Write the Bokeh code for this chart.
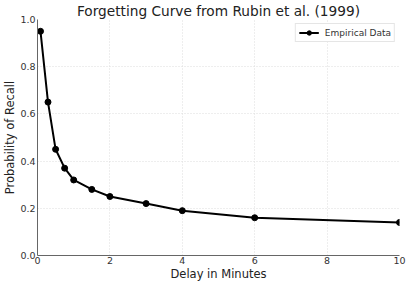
from bokeh.plotting import figure
from bokeh.models import ColumnDataSource, Range1d, FixedTicker, PrintfTickFormatter
from bokeh.embed import file_html
from bokeh.resources import INLINE

delay_minutes = [0.083, 0.29, 0.5, 0.75, 1.0, 1.5, 2.0, 3.0, 4.0, 6.0, 10.0]
recall_prob = [0.95, 0.65, 0.45, 0.37, 0.32, 0.28, 0.25, 0.22, 0.19, 0.16, 0.14]
x_ticks = [0, 2, 4, 6, 8, 10]
y_ticks = [0.0, 0.2, 0.4, 0.6, 0.8, 1.0]
title_text = "Forgetting Curve from Rubin et al. (1999)"
x_label = "Delay in Minutes"
y_label = "Probability of Recall"
series_label = "Empirical Data"

FONT = "DejaVu Sans"

src = ColumnDataSource(dict(x=delay_minutes, y=recall_prob))

p = figure(width=410, height=284, output_backend="svg", toolbar_location=None,
           x_range=Range1d(0, 10), y_range=Range1d(0, 1.0),
           min_border_left=35, min_border_right=11, min_border_top=0, min_border_bottom=29)

p.title.text = title_text
p.title.align = "center"
p.title.text_font = FONT
p.title.text_font_size = "13.7px"
p.title.text_font_style = "normal"
p.title.text_color = "#222222"
p.title.standoff = 1

p.line("x", "y", source=src, line_color="black", line_width=2, legend_label=series_label)
p.scatter("x", "y", source=src, size=6, fill_color="black", line_color="black",
          legend_label=series_label)

p.outline_line_color = None
p.background_fill_color = "white"
p.border_fill_color = "white"

for ax in (p.xaxis[0], p.yaxis[0]):
    ax.axis_line_color = "#666666"
    ax.axis_line_width = 1
    ax.major_tick_out = 0
    ax.major_tick_in = 0
    ax.minor_tick_out = 0
    ax.minor_tick_in = 0
    ax.major_label_text_font = FONT
    ax.major_label_text_font_size = "9.5px"
    ax.major_label_text_color = "#333333"
    ax.axis_label_text_font = FONT
    ax.axis_label_text_font_size = "11.5px"
    ax.axis_label_text_font_style = "normal"
    ax.axis_label_text_color = "#222222"

p.xaxis[0].major_label_standoff = 1
p.xaxis[0].axis_label_standoff = 0
p.yaxis[0].major_label_standoff = 2
p.yaxis[0].axis_label_standoff = 0

p.xaxis[0].ticker = FixedTicker(ticks=x_ticks)
p.yaxis[0].ticker = FixedTicker(ticks=y_ticks)
p.yaxis[0].formatter = PrintfTickFormatter(format="%.1f")
p.xaxis[0].axis_label = x_label
p.yaxis[0].axis_label = y_label

for g in (p.xgrid[0], p.ygrid[0]):
    g.grid_line_color = "#dddddd"
    g.grid_line_dash = "1 2"
    g.grid_line_width = 1

lg = p.legend[0]
lg.location = "top_right"
lg.label_text_font = FONT
lg.label_text_font_size = "9px"
lg.label_text_color = "#333333"
lg.border_line_color = "#cccccc"
lg.border_line_width = 1
lg.background_fill_alpha = 1.0
lg.glyph_width = 20
lg.glyph_height = 11
lg.padding = 3
lg.spacing = 0
lg.margin = 4
lg.label_standoff = 6

open("out.html", "w").write(file_html(p, INLINE))
